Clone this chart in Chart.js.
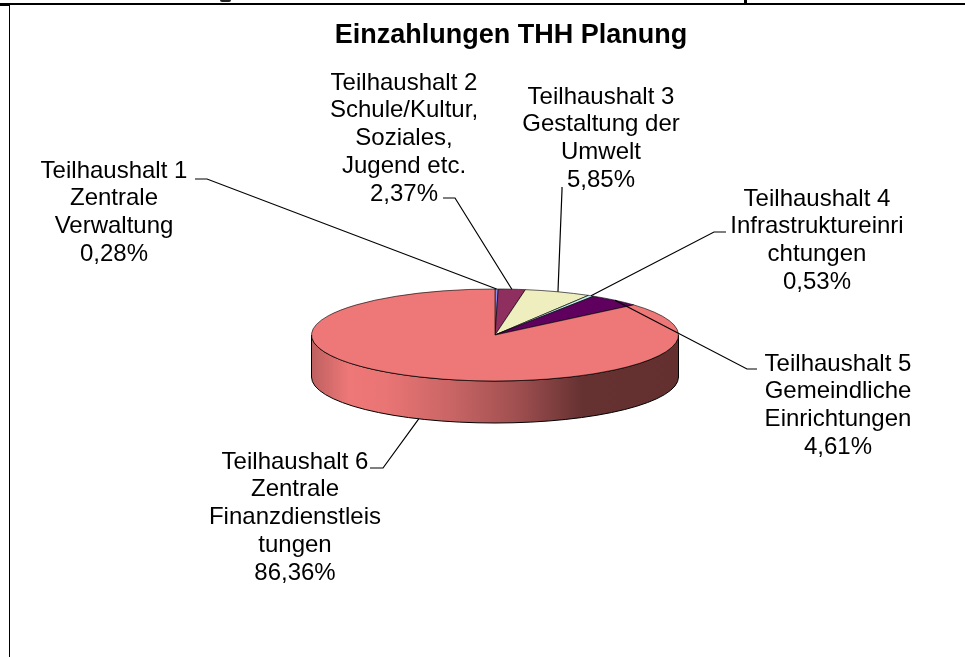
<!DOCTYPE html>
<html>
<head>
<meta charset="utf-8">
<title>Einzahlungen THH Planung</title>
<script src="https://cdn.jsdelivr.net/npm/chart.js@4"></script>
<style>
  html, body { margin: 0; padding: 0; background: #fff; }
  #wrap { position: relative; width: 965px; height: 657px; overflow: hidden; }
  #rule-top { position: absolute; left: 0; top: 3px; width: 965px; height: 2px; background: #000; }
  #rule-corner { position: absolute; left: 0; top: 5px; width: 9px; height: 1px; background: #000; }
  #rule-left { position: absolute; left: 9px; top: 5px; width: 1px; height: 652px; background: #000; }
  #stub { position: absolute; left: 744px; top: 0; width: 3px; height: 3px; background: #000; }
  #descender { position: absolute; left: 220px; top: 0; width: 11px; height: 2px; background: #222; border-radius: 0 0 5px 5px; }
  canvas { position: absolute; left: 0; top: 0; }
</style>
</head>
<body>
<div id="wrap">
  <canvas id="chart" width="965" height="657"></canvas>
  <div id="rule-top"></div>
  <div id="rule-corner"></div>
  <div id="rule-left"></div>
  <div id="stub"></div>
  <div id="descender"></div>
</div>
<script>
const chartTitle = 'Einzahlungen THH Planung'
const categories = [
  ['Teilhaushalt 1', 'Zentrale', 'Verwaltung'],
  ['Teilhaushalt 2', 'Schule/Kultur,', 'Soziales,', 'Jugend etc.'],
  ['Teilhaushalt 3', 'Gestaltung der', 'Umwelt'],
  ['Teilhaushalt 4', 'Infrastruktureinri', 'chtungen'],
  ['Teilhaushalt 5', 'Gemeindliche', 'Einrichtungen'],
  ['Teilhaushalt 6', 'Zentrale', 'Finanzdienstleis', 'tungen']
]
const shares = [0.28, 2.37, 5.85, 0.53, 4.61, 86.36]
const sliceColors = ['#8e8eed', '#8e2f5f', '#eeeebe', '#beeeee', '#5f005f', '#ee7777']

// Label placement: text centre, first line cap centre, leader start and elbow
const labelLayout = [
  { x: 114, y: 169, from: [195, 179], elbow: [207, 179] },
  { x: 404, y: 81, from: [443, 198], elbow: [455, 198] },
  { x: 601, y: 95, from: [562, 187], elbow: [562, 190] },
  { x: 817, y: 197, from: [726, 232], elbow: [714, 232] },
  { x: 838, y: 362, from: [757, 369], elbow: [747, 369] },
  { x: 295, y: 460, from: [370, 468], elbow: [383, 468] }
]

const FONT = '"Liberation Sans", Arial, sans-serif'
const LABEL_SIZE = 24
const LINE_HEIGHT = 27.9
const TITLE_SIZE = 27
const CAP_RATIO = 0.716
const TILT = 46 / 183.5 // vertical squash of the pie
const DEPTH = 42

const pie3d = {
  id: 'pie3d',
  beforeDatasetsDraw(chart) {
    const { ctx } = chart
    const arcs = chart.getDatasetMeta(0).data
    const { x: cx, y: cy, outerRadius: r } = arcs[0].getProps(['x', 'y', 'outerRadius'], true)

    // Side wall: only the part of each slice facing the viewer (canvas angles 0..PI)
    arcs.forEach((arc) => {
      const { startAngle, endAngle } = arc.getProps(['startAngle', 'endAngle'], true)
      let from = Math.max(startAngle, 0)
      let to = Math.min(endAngle, Math.PI)
      if (to <= from) return
      const wall = ctx.createLinearGradient(cx - r, 0, cx + r, 0)
      wall.addColorStop(0, '#bd6060')
      wall.addColorStop(0.1, '#ee7777')
      wall.addColorStop(0.2, '#ea7575')
      wall.addColorStop(0.38, '#c96565')
      wall.addColorStop(0.56, '#a04f50')
      wall.addColorStop(0.74, '#653131')
      wall.addColorStop(1, '#63302f')
      ctx.save()
      ctx.beginPath()
      ctx.ellipse(cx, cy, r, r * TILT, 0, from, to)
      ctx.ellipse(cx, cy + DEPTH, r, r * TILT, 0, to, from, true)
      ctx.closePath()
      ctx.fillStyle = wall
      ctx.fill()
      ctx.lineWidth = 1
      ctx.strokeStyle = '#000'
      ctx.stroke()
      ctx.restore()
    })

    // Squash the top face while the arcs are drawn
    ctx.save()
    ctx.translate(cx, cy)
    ctx.scale(1, TILT)
    ctx.translate(-cx, -cy)
  },
  afterDatasetsDraw(chart) {
    const { ctx } = chart
    ctx.restore()

    ctx.fillStyle = '#000'
    ctx.textAlign = 'center'
    ctx.textBaseline = 'alphabetic'
    ctx.font = 'bold ' + TITLE_SIZE + 'px ' + FONT
    ctx.fillText(chartTitle, 511, 33.5 + TITLE_SIZE * CAP_RATIO / 2)

    ctx.font = LABEL_SIZE + 'px ' + FONT
    chart.getDatasetMeta(0).data.forEach((arc, i) => {
      const { x: cx, y: cy, outerRadius: r, startAngle, endAngle } =
        arc.getProps(['x', 'y', 'outerRadius', 'startAngle', 'endAngle'], true)
      const mid = (startAngle + endAngle) / 2
      const place = labelLayout[i]
      const tipX = cx + r * Math.cos(mid)
      const tipY = cy + r * TILT * Math.sin(mid) + (Math.sin(mid) > 0 ? DEPTH : 0)

      ctx.beginPath()
      ctx.moveTo(place.from[0], place.from[1])
      ctx.lineTo(place.elbow[0], place.elbow[1])
      ctx.lineTo(tipX, tipY)
      ctx.lineWidth = 1.2
      ctx.strokeStyle = '#000'
      ctx.stroke()

      const pct = shares[i].toFixed(2).replace('.', ',') + '%'
      const lines = categories[i].concat(pct)
      lines.forEach((line, n) => {
        ctx.fillText(line, place.x, place.y + LABEL_SIZE * CAP_RATIO / 2 + n * LINE_HEIGHT)
      })
    })
  }
}

new Chart(document.getElementById('chart'), {
  type: 'pie',
  data: {
    labels: categories.map(lines => lines.join(' ')),
    datasets: [{
      data: shares,
      backgroundColor: sliceColors,
      borderColor: '#000',
      borderWidth: 1,
      radius: 183.5
    }]
  },
  options: {
    responsive: false,
    animation: false,
    events: [],
    layout: { padding: { left: 25, top: 13 } },
    plugins: {
      legend: { display: false },
      tooltip: { enabled: false }
    }
  },
  plugins: [pie3d]
})
</script>
</body>
</html>
